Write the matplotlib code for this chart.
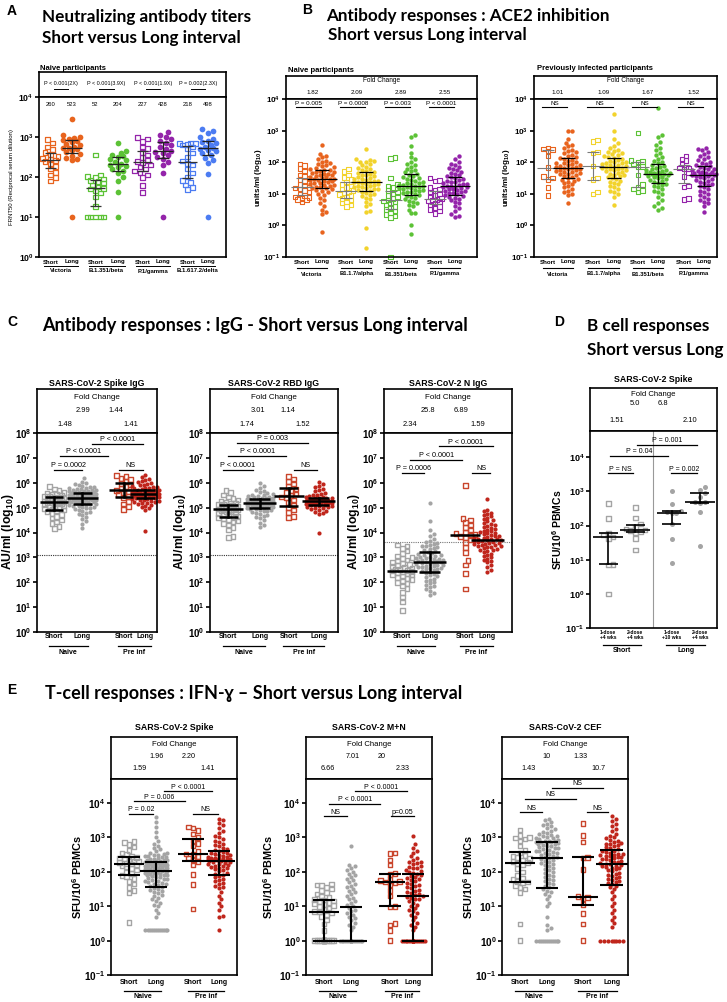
import numpy as np
import matplotlib
matplotlib.use("Agg")
import matplotlib.pyplot as plt
from matplotlib.transforms import blended_transform_factory
from matplotlib.ticker import NullLocator

plt.rcParams["font.family"] = ["Liberation Sans", "DejaVu Sans"]
plt.rcParams["mathtext.fontset"] = "custom"
plt.rcParams["mathtext.rm"] = "Liberation Sans"
plt.rcParams["mathtext.bf"] = "Liberation Sans:bold"
plt.rcParams["mathtext.it"] = "Liberation Sans:italic"

# all values below are log10 of the measured titre / count
# A: FRNT50, naive participants
A_vic_s = [2.93, 2.85, 2.75, 2.68, 2.62, 2.57, 2.52, 2.47, 2.43, 2.41, 2.38, 2.33, 2.27, 2.2, 2.12, 2.05, 1.98, 1.9]
A_vic_l = [3.44, 3.05, 3.0, 2.98, 2.95, 2.92, 2.9, 2.87, 2.83, 2.8, 2.75, 2.72, 2.72, 2.7, 2.67, 2.62, 2.58, 2.52, 2.48, 2.45, 2.42, 1.0]
A_beta_s = [2.55, 2.05, 2.02, 1.98, 1.95, 1.92, 1.88, 1.85, 1.8, 1.75, 1.72, 1.7, 1.65, 1.6, 1.5, 1.27, 1.0, 1.0, 1.0, 1.0, 1.0]
A_beta_l = [2.85, 2.65, 2.6, 2.55, 2.52, 2.5, 2.45, 2.42, 2.38, 2.33, 2.31, 2.28, 2.25, 2.2, 2.15, 2.1, 2.0, 1.9, 1.62, 1.0]
A_p1_s = [2.98, 2.95, 2.88, 2.75, 2.72, 2.62, 2.55, 2.48, 2.42, 2.38, 2.36, 2.3, 2.25, 2.2, 2.15, 2.1, 2.05, 1.98, 1.78, 1.62]
A_p1_l = [3.13, 3.05, 3.0, 2.95, 2.9, 2.85, 2.8, 2.75, 2.7, 2.65, 2.63, 2.6, 2.55, 2.5, 2.45, 2.38, 2.3, 2.1, 1.0]
A_delta_s = [2.85, 2.84, 2.83, 2.82, 2.8, 2.75, 2.7, 2.6, 2.5, 2.4, 2.34, 2.3, 2.2, 2.1, 2.0, 1.92, 1.86, 1.8, 1.73, 1.68]
A_delta_l = [3.2, 3.15, 3.1, 3.0, 2.95, 2.9, 2.88, 2.85, 2.8, 2.76, 2.72, 2.7, 2.68, 2.65, 2.6, 2.55, 2.48, 2.42, 2.35, 2.08, 1.0]
A_median_labels = ["260", "523", "52", "204", "227", "428", "218", "498"]
A_pvals = ["P < 0.001(2X)", "P < 0.001(3.9X)", "P < 0.001(1.9X)", "P = 0.002(2.3X)"]
A_variants = ["Victoria", "B.1.351/beta", "P.1/gamma", "B.1.617.2/delta"]

# B: ACE2 inhibition, naive participants
BN_vic_s = [1.95, 1.9, 1.8, 1.72, 1.6, 1.55, 1.5, 1.45, 1.4, 1.35, 1.3, 1.25, 1.2, 1.18, 1.15, 1.1, 1.05, 1.0, 0.95, 0.9, 0.88, 0.85, 0.82, 0.8, 0.75]
BN_vic_l = [2.55, 2.27, 2.2, 2.15, 2.1, 2.05, 2.0, 1.97, 1.93, 1.9, 1.87, 1.84, 1.81, 1.78, 1.76, 1.74, 1.72, 1.7, 1.68, 1.66,
            1.64, 1.62, 1.6, 1.58, 1.56, 1.54, 1.52, 1.5, 1.48, 1.47, 1.46, 1.45, 1.43, 1.41, 1.39, 1.37, 1.35, 1.33, 1.31, 1.29,
            1.27, 1.25, 1.23, 1.21, 1.19, 1.17, 1.15, 1.12, 1.09, 1.05, 1.0, 0.95, 0.88, 0.8, 0.7, 0.62, 0.5, 0.42, 0.35, -0.2]
BN_alpha_s = [1.78, 1.7, 1.6, 1.52, 1.45, 1.38, 1.3, 1.25, 1.2, 1.15, 1.1, 1.05, 1.02, 0.98, 0.95, 0.9, 0.85, 0.8, 0.75, 0.7, 0.65, 0.6]
BN_alpha_l = [2.42, 2.1, 2.08, 2.05, 2.02, 2.0, 1.95, 1.9, 1.86, 1.82, 1.78, 1.75, 1.72, 1.7, 1.67, 1.64, 1.61, 1.58, 1.55, 1.52,
              1.5, 1.48, 1.46, 1.44, 1.42, 1.4, 1.38, 1.37, 1.36, 1.34, 1.32, 1.3, 1.28, 1.26, 1.24, 1.22, 1.2, 1.18, 1.16, 1.14,
              1.12, 1.1, 1.07, 1.04, 1.0, 0.96, 0.92, 0.88, 0.82, 0.75, 0.68, 0.6, 0.45, 0.42, -0.07, -0.7]
BN_beta_s = [2.15, 2.12, 1.5, 1.3, 1.25, 1.2, 1.1, 1.05, 1.0, 0.95, 0.9, 0.85, 0.8, 0.78, 0.75, 0.7, 0.65, 0.6, 0.55, 0.5, 0.45, 0.4, 0.35, 0.3, 0.25, -1.0]
BN_beta_l = [2.87, 2.8, 2.5, 2.3, 2.15, 2.1, 2.0, 1.95, 1.9, 1.85, 1.8, 1.76, 1.72, 1.68, 1.64, 1.6, 1.56, 1.53, 1.5, 1.47,
             1.44, 1.41, 1.38, 1.35, 1.33, 1.31, 1.29, 1.27, 1.26, 1.25, 1.23, 1.21, 1.19, 1.17, 1.15, 1.13, 1.11, 1.09, 1.07, 1.05,
             1.02, 0.99, 0.96, 0.93, 0.9, 0.86, 0.82, 0.78, 0.74, 0.7, 0.65, 0.6, 0.5, 0.4, 0.38, 0.0, -0.28]
BN_p1_s = [1.5, 1.42, 1.4, 1.2, 1.15, 1.1, 1.05, 1.0, 0.95, 0.9, 0.85, 0.82, 0.8, 0.78, 0.75, 0.7, 0.65, 0.6, 0.55, 0.5, 0.45, 0.38]
BN_p1_l = [2.2, 2.1, 2.0, 1.95, 1.9, 1.86, 1.82, 1.78, 1.74, 1.7, 1.66, 1.62, 1.58, 1.55, 1.52, 1.49, 1.46, 1.43, 1.4, 1.38,
           1.36, 1.34, 1.32, 1.3, 1.28, 1.26, 1.24, 1.23, 1.22, 1.2, 1.18, 1.16, 1.14, 1.12, 1.1, 1.08, 1.06, 1.04, 1.02, 1.0,
           0.97, 0.94, 0.91, 0.88, 0.85, 0.8, 0.75, 0.7, 0.62, 0.55, 0.45, 0.35, 0.3, 0.27]
BN_fold = ["1.82", "2.09", "2.89", "2.55"]
BN_pvals = ["P = 0.005", "P = 0.0008", "P = 0.003", "P < 0.0001"]

# B: ACE2 inhibition, previously infected participants
BP_vic_s = [2.45, 2.42, 2.4, 2.35, 2.2, 1.83, 1.55, 1.5, 1.45, 1.2, 0.95]
BP_vic_l = [3.0, 2.98, 2.75, 2.62, 2.55, 2.5, 2.45, 2.4, 2.36, 2.32, 2.28, 2.24, 2.2, 2.16, 2.13, 2.1, 2.07, 2.04, 2.01, 1.98,
            1.96, 1.94, 1.92, 1.9, 1.88, 1.86, 1.84, 1.82, 1.81, 1.8, 1.78, 1.76, 1.74, 1.72, 1.7, 1.68, 1.66, 1.64, 1.62, 1.6,
            1.57, 1.54, 1.51, 1.48, 1.45, 1.42, 1.38, 1.34, 1.3, 1.25, 1.2, 1.15, 1.1, 1.05, 1.0, 0.95, 0.7]
BP_alpha_s = [2.7, 2.65, 2.33, 2.3, 1.88, 1.5, 1.45, 1.05, 1.0]
BP_alpha_l = [3.52, 3.0, 2.75, 2.6, 2.5, 2.44, 2.4, 2.36, 2.32, 2.28, 2.25, 2.22, 2.19, 2.16, 2.13, 2.1, 2.07, 2.04, 2.02, 2.0,
              1.98, 1.96, 1.94, 1.92, 1.9, 1.88, 1.86, 1.84, 1.83, 1.82, 1.8, 1.78, 1.76, 1.74, 1.72, 1.7, 1.67, 1.64, 1.61, 1.58,
              1.55, 1.52, 1.49, 1.46, 1.42, 1.38, 1.34, 1.3, 1.25, 1.2, 1.15, 1.1, 1.05, 1.0, 0.9, 0.65]
BP_beta_s = [2.92, 2.05, 2.02, 2.0, 1.95, 1.87, 1.85, 1.6, 1.3, 1.2, 1.15, 1.1, 1.05]
BP_beta_l = [3.73, 2.85, 2.8, 2.65, 2.55, 2.45, 2.38, 2.3, 2.22, 2.15, 2.1, 2.05, 2.0, 1.96, 1.92, 1.88, 1.85, 1.82, 1.79, 1.76,
             1.74, 1.72, 1.7, 1.68, 1.67, 1.66, 1.65, 1.64, 1.63, 1.62, 1.6, 1.58, 1.56, 1.54, 1.52, 1.5, 1.47, 1.44, 1.41, 1.38,
             1.35, 1.32, 1.28, 1.24, 1.2, 1.15, 1.1, 1.05, 1.0, 0.9, 0.8, 0.7, 0.6, 0.55, 0.5]
BP_p1_s = [2.2, 2.1, 2.05, 1.95, 1.85, 1.82, 1.8, 1.78, 1.65, 1.55, 1.25, 1.22, 0.85, 0.82]
BP_p1_l = [2.45, 2.42, 2.38, 2.32, 2.26, 2.2, 2.15, 2.1, 2.06, 2.02, 1.98, 1.95, 1.92, 1.89, 1.86, 1.83, 1.8, 1.77, 1.74, 1.72,
           1.7, 1.68, 1.66, 1.65, 1.64, 1.63, 1.62, 1.61, 1.6, 1.59, 1.57, 1.55, 1.53, 1.5, 1.47, 1.44, 1.41, 1.38, 1.35, 1.32,
           1.28, 1.24, 1.2, 1.15, 1.1, 1.05, 1.0, 0.95, 0.9, 0.85, 0.8, 0.75, 0.7, 0.6, 0.43]
BP_fold = ["1.01", "1.09", "1.67", "1.52"]
B_variants = ["Victoria", "B1.1.7/alpha", "B1.351/beta", "P.1/gamma"]

# C: IgG (AU/ml) -- naive short, naive long, pre-inf short, pre-inf long
C_spike_ns = [5.85, 5.75, 5.68, 5.62, 5.58, 5.55, 5.52, 5.5, 5.47, 5.45, 5.43, 5.41, 5.39, 5.37, 5.35, 5.33, 5.31, 5.29, 5.27, 5.25,
              5.24, 5.23, 5.21, 5.19, 5.17, 5.15, 5.12, 5.09, 5.06, 5.03, 5.0, 4.97, 4.94, 4.9, 4.86, 4.82, 4.77, 4.72, 4.65, 4.58,
              4.5, 4.42, 4.35, 4.25, 4.17]
C_spike_nl = [6.18, 6.05, 5.98, 5.93, 5.9, 5.87, 5.84, 5.82, 5.8, 5.78, 5.76, 5.74, 5.72, 5.7, 5.69, 5.68, 5.66, 5.65, 5.64, 5.62,
              5.61, 5.6, 5.59, 5.58, 5.57, 5.56, 5.55, 5.54, 5.53, 5.52, 5.51, 5.5, 5.49, 5.48, 5.47, 5.46, 5.45, 5.44, 5.43, 5.42,
              5.42, 5.41, 5.4, 5.39, 5.38, 5.37, 5.36, 5.35, 5.34, 5.33, 5.32, 5.31, 5.3, 5.29, 5.28, 5.27, 5.26, 5.25, 5.24, 5.23,
              5.22, 5.21, 5.2, 5.18, 5.16, 5.14, 5.12, 5.1, 5.08, 5.06, 5.04, 5.02, 5.0, 4.97, 4.94, 4.91, 4.88, 4.84, 4.8, 4.75,
              4.7, 4.63, 4.55, 4.45, 4.35, 4.17]
C_spike_ps = [6.28, 6.25, 6.18, 6.12, 6.05, 5.98, 5.92, 5.85, 5.78, 5.72, 5.7, 5.65, 5.6, 5.52, 5.45, 5.38, 5.25, 5.15, 5.05, 4.92]
C_spike_pl = [6.3, 6.22, 6.15, 6.1, 6.06, 6.02, 5.98, 5.95, 5.92, 5.89, 5.86, 5.84, 5.82, 5.8, 5.78, 5.76, 5.74, 5.72, 5.71, 5.7,
              5.68, 5.67, 5.66, 5.65, 5.64, 5.63, 5.62, 5.61, 5.6, 5.59, 5.58, 5.57, 5.56, 5.55, 5.54, 5.54, 5.53, 5.52, 5.51, 5.5,
              5.49, 5.48, 5.47, 5.46, 5.45, 5.44, 5.43, 5.42, 5.41, 5.4, 5.39, 5.38, 5.36, 5.34, 5.32, 5.3, 5.28, 5.26, 5.24, 5.22,
              5.2, 5.17, 5.14, 5.1, 5.06, 5.02, 4.97, 4.9, 4.05]
C_rbd_ns = [5.68, 5.6, 5.5, 5.42, 5.36, 5.3, 5.26, 5.22, 5.19, 5.16, 5.14, 5.12, 5.1, 5.08, 5.06, 5.04, 5.02, 5.0, 4.98, 4.96,
            4.94, 4.93, 4.92, 4.9, 4.88, 4.85, 4.82, 4.79, 4.76, 4.73, 4.7, 4.67, 4.64, 4.6, 4.56, 4.52, 4.47, 4.42, 4.36, 4.3,
            4.2, 4.1, 3.85, 3.8]
C_rbd_nl = [6.0, 5.85, 5.78, 5.72, 5.67, 5.62, 5.58, 5.55, 5.52, 5.5, 5.48, 5.46, 5.44, 5.42, 5.4, 5.38, 5.37, 5.36, 5.35, 5.34,
            5.33, 5.32, 5.31, 5.3, 5.29, 5.28, 5.27, 5.26, 5.25, 5.24, 5.23, 5.22, 5.21, 5.2, 5.2, 5.19, 5.18, 5.17, 5.16, 5.15,
            5.14, 5.13, 5.12, 5.11, 5.1, 5.09, 5.08, 5.07, 5.06, 5.05, 5.04, 5.03, 5.02, 5.0, 4.98, 4.96, 4.94, 4.92, 4.9, 4.88,
            4.85, 4.82, 4.79, 4.76, 4.72, 4.68, 4.63, 4.58, 4.5, 4.4, 4.3, 4.24]
C_rbd_ps = [6.25, 6.15, 6.05, 5.95, 5.85, 5.75, 5.68, 5.6, 5.55, 5.48, 5.42, 5.38, 5.3, 5.2, 5.1, 5.0, 4.9, 4.8, 4.65, 4.6]
C_rbd_pl = [6.05, 5.95, 5.88, 5.82, 5.76, 5.7, 5.65, 5.6, 5.56, 5.52, 5.49, 5.46, 5.44, 5.42, 5.4, 5.39, 5.38, 5.37, 5.36, 5.35,
            5.34, 5.33, 5.32, 5.31, 5.3, 5.29, 5.28, 5.27, 5.26, 5.25, 5.24, 5.24, 5.23, 5.22, 5.21, 5.2, 5.19, 5.18, 5.17, 5.16,
            5.15, 5.14, 5.13, 5.12, 5.11, 5.1, 5.08, 5.06, 5.04, 5.02, 5.0, 4.97, 4.94, 4.91, 4.88, 4.84, 4.8, 4.75, 3.97]
C_n_ns = [3.5, 3.45, 3.35, 3.25, 3.15, 3.05, 3.0, 2.95, 2.9, 2.85, 2.8, 2.76, 2.72, 2.68, 2.64, 2.6, 2.57, 2.54, 2.51, 2.48,
          2.45, 2.43, 2.41, 2.38, 2.35, 2.32, 2.29, 2.25, 2.2, 2.15, 2.1, 2.05, 2.0, 1.95, 1.85, 1.75, 1.6, 1.4, 1.2, 0.87]
C_n_nl = [5.2, 4.45, 4.1, 3.95, 3.85, 3.75, 3.65, 3.62, 3.58, 3.55, 3.5, 3.47, 3.44, 3.4, 3.38, 3.33, 3.28, 3.24, 3.2, 3.17,
          3.14, 3.11, 3.08, 3.05, 3.03, 3.01, 2.99, 2.97, 2.95, 2.93, 2.91, 2.89, 2.87, 2.85, 2.84, 2.83, 2.81, 2.79, 2.77, 2.75,
          2.73, 2.71, 2.69, 2.67, 2.65, 2.63, 2.61, 2.59, 2.57, 2.55, 2.52, 2.49, 2.46, 2.43, 2.4, 2.36, 2.32, 2.28, 2.24, 2.2,
          2.15, 2.1, 2.05, 2.0, 1.95, 1.9, 1.85, 1.8, 1.72, 1.65, 1.58, 1.5]
C_n_ps = [5.9, 4.57, 4.5, 4.4, 4.3, 4.2, 4.1, 4.0, 3.95, 3.92, 3.9, 3.85, 3.8, 3.7, 3.6, 3.4, 3.2, 2.87, 2.7, 2.35, 1.73]
C_n_pl = [5.33, 4.9, 4.85, 4.8, 4.75, 4.7, 4.65, 4.6, 4.55, 4.5, 4.45, 4.4, 4.36, 4.32, 4.28, 4.24, 4.2, 4.16, 4.12, 4.08,
          4.05, 4.02, 3.99, 3.96, 3.93, 3.9, 3.87, 3.84, 3.81, 3.78, 3.76, 3.75, 3.74, 3.72, 3.7, 3.68, 3.66, 3.64, 3.62, 3.6,
          3.58, 3.56, 3.54, 3.52, 3.5, 3.48, 3.46, 3.44, 3.42, 3.4, 3.37, 3.34, 3.31, 3.28, 3.25, 3.2, 3.15, 3.1, 3.05, 3.0,
          2.95, 2.9, 2.85, 2.8, 2.7, 2.6, 2.5, 2.4]
C_cutoff = [3.09, 3.09, 3.62]
C_fold_top = [["2.99", "1.44"], ["3.01", "1.14"], ["25.8", "6.89"]]
C_fold_low = [["1.48", "1.41"], ["1.74", "1.52"], ["2.34", "1.59"]]
C_titles = ["SARS-CoV-2 Spike IgG", "SARS-CoV-2 RBD IgG", "SARS-CoV-2 N IgG"]
C_pvals = [["P = 0.0002", "P < 0.0001", "P < 0.0001", "NS"],
           ["P < 0.0001", "P < 0.0001", "P = 0.003", "NS"],
           ["P = 0.0006", "P < 0.0001", "P < 0.0001", "NS"]]

# D: B cell ELISpot (SFU/10^6 PBMCs)
D_short_1dose = [2.65, 2.2, 1.78, 1.72, 1.67, 1.62, 0.86, 0.85, 0.0]
D_short_2dose = [2.53, 2.22, 2.05, 1.95, 1.9, 1.87, 1.85, 1.83, 1.8, 1.62, 1.28]
D_long_1dose = [3.0, 2.63, 2.42, 2.4, 2.38, 2.37, 2.05, 1.6, 0.9]
D_long_2dose = [3.13, 3.05, 2.95, 2.85, 2.7, 2.68, 2.65, 2.4, 1.4]
D_labels = ["1-dose\n+4 wks", "2-dose\n+4 wks", "1-dose\n+10 wks", "2-dose\n+4 wks"]
D_pvals = ["P = NS", "P = 0.04", "P = 0.001", "P = 0.002"]

# E: T-cell IFN-g ELISpot (SFU/10^6 PBMCs)
E_spike_ns = [2.88, 2.85, 2.8, 2.72, 2.62, 2.55, 2.5, 2.45, 2.42, 2.4, 2.38, 2.35, 2.32, 2.3, 2.28, 2.25, 2.23, 2.2, 2.18, 2.15,
              2.1, 2.05, 2.0, 1.95, 1.9, 1.85, 1.8, 1.72, 1.65, 1.55, 1.45, 1.38, 0.52]
E_spike_nl = [3.6, 3.45, 3.3, 3.15, 3.0, 2.9, 2.82, 2.76, 2.7, 2.65, 2.6, 2.56, 2.55, 2.52, 2.5, 2.49, 2.46, 2.45, 2.43, 2.42,
              2.4, 2.38, 2.36, 2.35, 2.34, 2.33, 2.32, 2.31, 2.3, 2.29, 2.28, 2.27, 2.26, 2.25, 2.24, 2.23, 2.22, 2.21, 2.2, 2.19,
              2.18, 2.17, 2.16, 2.15, 2.14, 2.13, 2.12, 2.11, 2.1, 2.09, 2.08, 2.07, 2.06, 2.05, 2.04, 2.03, 2.02, 2.01, 2.0, 1.99,
              1.98, 1.97, 1.96, 1.95, 1.94, 1.93, 1.92, 1.91, 1.9, 1.88, 1.86, 1.84, 1.82, 1.8, 1.78, 1.76, 1.74, 1.72, 1.7, 1.68,
              1.66, 1.64, 1.62, 1.6, 1.57, 1.54, 1.51, 1.48, 1.45, 1.42, 1.38, 1.34, 1.3, 1.25, 1.2, 1.15, 1.1, 1.05, 1.0, 0.9,
              0.8, 0.7, 0.3, 0.3, 0.3, 0.3, 0.3, 0.3, 0.3, 0.3, 0.3, 0.3, 0.3, 0.3]
E_spike_ps = [3.3, 3.28, 3.2, 3.1, 3.0, 2.9, 2.82, 2.75, 2.6, 2.52, 2.5, 2.45, 2.4, 2.35, 2.3, 2.2, 1.93, 1.63, 0.92]
E_spike_pl = [3.55, 3.5, 3.42, 3.35, 3.28, 3.2, 3.12, 3.05, 3.0, 2.95, 2.9, 2.86, 2.82, 2.78, 2.74, 2.7, 2.67, 2.64, 2.61, 2.58,
              2.56, 2.54, 2.52, 2.5, 2.48, 2.46, 2.44, 2.42, 2.41, 2.4, 2.39, 2.38, 2.37, 2.36, 2.35, 2.34, 2.33, 2.32, 2.31, 2.3,
              2.28, 2.26, 2.24, 2.22, 2.2, 2.18, 2.16, 2.14, 2.12, 2.1, 2.07, 2.04, 2.01, 1.98, 1.95, 1.92, 1.88, 1.84, 1.8, 1.76,
              1.72, 1.68, 1.64, 1.6, 1.56, 1.52, 1.4, 1.3, 1.2, 1.1, 1.0, 0.9, 0.72, 0.7, 0.3]
E_mn_ns = [1.65, 1.62, 1.6, 1.55, 1.5, 1.45, 1.4, 1.35, 1.3, 1.25, 1.2, 1.18, 1.15, 1.12, 1.1, 1.08, 1.05, 1.02, 1.0, 0.95,
           0.9, 0.85, 0.83, 0.8, 0.75, 0.7, 0.6, 0.48, 0.3,
           0.0, 0.0, 0.0, 0.0, 0.0, 0.0, 0.0, 0.0, 0.0, 0.0, 0.0, 0.0, 0.0, 0.0, 0.0]
E_mn_nl = [2.75, 2.2, 2.18, 2.1, 2.05, 2.0, 1.95, 1.9, 1.85, 1.8, 1.75, 1.7, 1.65, 1.6, 1.55, 1.5, 1.45, 1.4, 1.35, 1.3,
           1.25, 1.2, 1.15, 1.1, 1.05, 1.0, 0.95, 0.9, 0.85, 0.8, 0.75, 0.7, 0.65, 0.6, 0.5, 0.45, 0.4, 0.3] + [0.0] * 66
E_mn_ps = [2.55, 2.53, 2.35, 2.2, 1.95, 1.93, 1.78, 1.75, 1.72, 1.7, 1.68, 1.62, 1.45, 1.3, 1.0, 0.98, 0.5, 0.45, 0.3, 0.0]
E_mn_pl = [3.05, 2.8, 2.7, 2.6, 2.55, 2.45, 2.4, 2.35, 2.3, 2.28, 2.25, 2.22, 2.18, 2.15, 2.12, 2.1, 2.05, 2.02, 2.0, 1.98,
           1.95, 1.9, 1.88, 1.85, 1.82, 1.8, 1.76, 1.72, 1.68, 1.65, 1.62, 1.58, 1.55, 1.52, 1.48, 1.45, 1.42, 1.38, 1.35, 1.32,
           1.3, 1.28, 1.25, 1.22, 1.2, 1.15, 1.1, 1.05, 1.0, 0.95, 0.9, 0.85, 0.8, 0.75, 0.7, 0.6, 0.5, 0.45, 0.4, 0.3] + [0.0] * 22
E_cef_ns = [3.22, 3.05, 3.0, 2.98, 2.95, 2.9, 2.75, 2.62, 2.55, 2.48, 2.45, 2.42, 2.38, 2.35, 2.3, 2.27, 2.25, 2.2, 2.1, 2.0,
            1.9, 1.82, 1.78, 1.72, 1.7, 1.68, 1.6, 1.55, 1.5, 1.4, 0.48, 0.0]
E_cef_nl = [3.55, 3.5, 3.45, 3.4, 3.36, 3.32, 3.28, 3.24, 3.2, 3.17, 3.14, 3.11, 3.08, 3.05, 3.03, 3.01, 2.99, 2.97, 2.95, 2.93,
            2.91, 2.9, 2.89, 2.88, 2.87, 2.86, 2.85, 2.84, 2.82, 2.8, 2.78, 2.76, 2.74, 2.72, 2.7, 2.68, 2.66, 2.64, 2.62, 2.6,
            2.58, 2.56, 2.54, 2.52, 2.5, 2.47, 2.44, 2.42, 2.4, 2.38, 2.35, 2.32, 2.29, 2.26, 2.23, 2.2, 2.16, 2.12, 2.08, 2.04,
            2.0, 1.96, 1.92, 1.88, 1.84, 1.8, 1.76, 1.72, 1.68, 1.64, 1.6, 1.55, 1.5, 1.45, 1.4, 1.35, 1.3, 1.2, 1.1, 1.0,
            0.7, 0.45, 0.38, 0.3] + [0.0] * 12
E_cef_ps = [3.4, 3.05, 2.87, 2.42, 2.4, 2.06, 1.28, 1.25, 1.22, 1.05, 0.78, 0.48, 0.0]
E_cef_pl = [3.62, 3.55, 3.48, 3.4, 3.32, 3.25, 3.18, 3.1, 3.04, 3.0, 2.98, 2.93, 2.9, 2.88, 2.84, 2.82, 2.8, 2.77, 2.74, 2.71,
            2.68, 2.65, 2.62, 2.6, 2.59, 2.56, 2.53, 2.52, 2.5, 2.48, 2.46, 2.45, 2.44, 2.42, 2.4, 2.38, 2.36, 2.34, 2.32, 2.3,
            2.28, 2.26, 2.24, 2.22, 2.2, 2.18, 2.16, 2.14, 2.12, 2.1, 2.07, 2.04, 2.01, 1.98, 1.95, 1.92, 1.89, 1.86, 1.83, 1.8,
            1.77, 1.74, 1.71, 1.68, 1.65, 1.6, 1.55, 1.5, 1.4, 1.3, 1.2, 1.1, 1.0, 0.9, 0.8, 0.7, 0.6, 0.5, 0.4] + [0.0] * 8
E_titles = ["SARS-CoV-2 Spike", "SARS-CoV-2 M+N", "SARS-CoV-2 CEF"]
E_fold_top = [["1.96", "2.20"], ["7.01", "20"], ["10", "1.33"]]
E_fold_low = [["1.59", "1.41"], ["6.66", "2.33"], ["1.43", "10.7"]]
E_pvals = [["P = 0.02", "P = 0.006", "P < 0.0001", "NS"],
           ["NS", "P < 0.0001", "P < 0.0001", "p=0.05"],
           ["NS", "NS", "NS", "NS"]]

ORANGE = "#E8641E"
YELLOW = "#F2D32C"
GREEN = "#5CC236"
PURPLE = "#9424AA"
BLUE = "#4C7CF2"
GREY = "#A4A4A4"
RED = "#C0261C"
RED_SQ = "#C9452C"

W, H = 727, 1002
fig = plt.figure(figsize=(W / 100, H / 100), dpi=100)
TITLE_FONT = ["Lato", "DejaVu Sans"]


def ftext(x, y, s, **kw):
    kw.setdefault("va", "center")
    fig.text(x / W, 1 - y / H, s, **kw)


def add_ax(l, t, r, b):
    return fig.add_axes([l / W, 1 - b / H, (r - l) / W, (b - t) / H])


def panel(l, th, t, r, b, ylo, yhi, xlim, fs, lw=1.2):
    hd = add_ax(l, th, r, t)
    hd.set_xlim(xlim)
    hd.set_ylim(0, 1)
    hd.set_xticks([])
    hd.set_yticks([])
    hd.top, hd.bot = th, t
    ax = add_ax(l, t, r, b)
    ax.set_yscale("log")
    ax.set_ylim(10.0 ** ylo, 10.0 ** yhi)
    ax.set_xlim(xlim)
    ax.set_xticks([])
    exps = list(range(int(np.ceil(ylo)), int(np.floor(yhi)) + 1))
    ax.set_yticks([10.0 ** e for e in exps])
    ax.set_yticklabels([r"$\mathbf{10^{%d}}$" % e for e in exps], fontsize=fs)
    ax.yaxis.set_minor_locator(NullLocator())
    ax.tick_params(axis="y", length=3, width=lw, pad=1)
    for a in (ax, hd):
        for s in a.spines.values():
            s.set_linewidth(lw)
    ax.ppx = (r - l) / (xlim[1] - xlim[0])
    ax.ppy = (b - t) / (yhi - ylo)
    ax.hpx = b - t
    return ax, hd


def swarm(logs, x0, ppx, ppy, d, maxw):
    logs = np.asarray(logs, float)
    ys = logs * ppy
    order = np.argsort(logs, kind="stable")
    step = d / 2.0
    cands = [0.0]
    k = 1
    while k * step <= maxw:
        cands += [k * step, -k * step]
        k += 1
    cands = np.array(cands)
    px, py = [], []
    xs = np.zeros(len(logs))
    for i in order:
        y = ys[i]
        c = 0.0
        if px:
            PX, PY = np.array(px), np.array(py)
            near = np.abs(PY - y) < d
            if near.any():
                dist = np.hypot(cands[:, None] - PX[near][None, :], y - PY[near][None, :]).min(axis=1)
                ok = np.where(dist >= d * 0.98)[0]
                c = cands[ok[0]] if len(ok) else cands[np.argmax(dist)]
        px.append(c)
        py.append(y)
        xs[i] = x0 + c / ppx
    return xs


def group(ax, logs, x0, color, open_, d, maxw, s, ebc="black", elw=1.0, mw=0.45, cw=0.28, iqr=True, slw=0.9):
    xs = swarm(logs, x0, ax.ppx, ax.ppy, d, maxw)
    v = 10.0 ** np.asarray(logs, float)
    if open_:
        ax.scatter(xs, v, s=s, marker="s", facecolors="none", edgecolors=color, linewidths=slw, zorder=2, clip_on=False)
    else:
        ax.scatter(xs, v, s=s, marker="o", color=color, linewidths=0, zorder=2, clip_on=False)
    q1, med, q3 = np.percentile(v, [25, 50, 75])
    ax.plot([x0 - mw, x0 + mw], [med, med], color=ebc, lw=elw, zorder=3, solid_capstyle="butt")
    if iqr:
        for q in (q1, q3):
            ax.plot([x0 - cw, x0 + cw], [q, q], color=ebc, lw=elw, zorder=3, solid_capstyle="butt")
        ax.plot([x0, x0], [q1, q3], color=ebc, lw=elw, zorder=3)


def bracket(ax, x1, x2, ly, label, fs, lw=0.8, color="black"):
    y = 10.0 ** ly
    ax.plot([x1, x2], [y, y], color=color, lw=lw, clip_on=False)
    ax.annotate(label, ((x1 + x2) / 2, y), xytext=(0, 0.6), textcoords="offset points",
                ha="center", va="bottom", fontsize=fs)


def xlabels(ax, pos, names, groups, fs1, fs2, dy1, dy2, dy3, pad=0.2, lw=0.8):
    tr = blended_transform_factory(ax.transData, ax.transAxes)
    h = ax.hpx
    for p, n in zip(pos, names):
        ax.text(p, -dy1 / h, n, transform=tr, ha="center", va="center", fontsize=fs1, fontweight="bold",
                linespacing=1.0)
    for name, a, b in groups:
        ax.plot([a - pad, b + pad], [-dy2 / h] * 2, transform=tr, color="black", lw=lw, clip_on=False)
        ax.text((a + b) / 2, -dy3 / h, name, transform=tr, ha="center", va="center", fontsize=fs2,
                fontweight="bold")


def htext(hd, x, ypx, s, fs, **kw):
    hd.text(x, (hd.bot - ypx) / (hd.bot - hd.top), s, ha="center", va="center", fontsize=fs, **kw)


# ---------------- panel A ----------------
ftext(7, 11, "A", fontsize=10, fontweight="bold")
ftext(42, 17, "Neutralizing antibody titers", fontsize=12.3, fontweight="bold", family=TITLE_FONT)
ftext(42, 38, "Short versus Long interval", fontsize=12.3, fontweight="bold", family=TITLE_FONT)
ftext(40, 68, "Naive participants", fontsize=5.5, fontweight="bold")
axA, hdA = panel(39, 72, 97, 226, 257, 0, 4, (-0.5, 7.8), 6.2)
PA = [0, 0.95, 2, 3, 4.1, 5, 6.1, 7]
A_series = [A_vic_s, A_vic_l, A_beta_s, A_beta_l, A_p1_s, A_p1_l, A_delta_s, A_delta_l]
A_colors = [ORANGE, ORANGE, GREEN, GREEN, PURPLE, PURPLE, BLUE, BLUE]
for i, (vals, col) in enumerate(zip(A_series, A_colors)):
    if i % 2 == 0:
        group(axA, vals, PA[i], col, True, d=5.2, maxw=8, s=12, ebc="#333333", elw=0.9, mw=0.42, cw=0.25)
    else:
        group(axA, vals, PA[i], col, False, d=5.5, maxw=9, s=17, ebc="#222222", elw=0.9, mw=0.45, cw=0.28)
for k in range(4):
    a, b = PA[2 * k], PA[2 * k + 1]
    htext(hdA, (a + b) / 2, 84, A_pvals[k], 3.9)
    hdA.plot([a + 0.15, b - 0.15], [(97 - 89) / 25] * 2, color="black", lw=0.7)
for p, lab in zip(PA, A_median_labels):
    axA.text(p, 10 ** 3.82, lab, ha="center", va="center", fontsize=4.2)
ftext(12, 177, "FRNT50 (Reciprocal serum dilution)", fontsize=4.3, rotation=90, ha="center")
xlabels(axA, PA, ["Short", "Long"] * 4, [(A_variants[k], PA[2 * k], PA[2 * k + 1]) for k in range(4)],
        4.3, 4.3, 5, 9, 14, pad=0.3, lw=0.7)

# ---------------- panel B ----------------
ftext(302, 10, "B", fontsize=10, fontweight="bold")
ftext(326, 16, "Antibody responses : ACE2 inhibition", fontsize=12.3, fontweight="bold", family=TITLE_FONT)
ftext(328, 35, "Short versus Long interval", fontsize=12.3, fontweight="bold", family=TITLE_FONT)
ftext(288, 70, "Naive participants", fontsize=5.5, fontweight="bold")
ftext(537, 69, "Previously infected participants", fontsize=5.5, fontweight="bold")
B_colors = [ORANGE, YELLOW, GREEN, PURPLE]
for side in range(2):
    if side == 0:
        ax, hd = panel(286, 76, 99, 477, 257, -1, 4, (-0.8, 8.7), 5.8)
        PB = [0, 1, 2.2, 3.2, 4.4, 5.4, 6.6, 7.6]
        shorts = [BN_vic_s, BN_alpha_s, BN_beta_s, BN_p1_s]
        longs = [BN_vic_l, BN_alpha_l, BN_beta_l, BN_p1_l]
        folds, pv = BN_fold, BN_pvals
        ftext(259, 178, r"units/ml (log$_\mathbf{10}$)", fontsize=5.8, fontweight="bold", rotation=90, ha="center")
    else:
        ax, hd = panel(534, 76, 99, 717, 257, -1, 4, (-0.7, 8.45), 5.8)
        PB = [0, 1, 2.25, 3.3, 4.5, 5.5, 6.8, 7.8]
        shorts = [BP_vic_s, BP_alpha_s, BP_beta_s, BP_p1_s]
        longs = [BP_vic_l, BP_alpha_l, BP_beta_l, BP_p1_l]
        folds, pv = BP_fold, ["NS"] * 4
        ftext(507, 178, r"units/ml (log$_\mathbf{10}$)", fontsize=5.8, fontweight="bold", rotation=90, ha="center")
    for k in range(4):
        group(ax, shorts[k], PB[2 * k], B_colors[k], True, d=4.6, maxw=8, s=10, ebc="#7A7A7A", elw=0.8,
              mw=0.55, cw=0.3, slw=0.8)
        group(ax, longs[k], PB[2 * k + 1], B_colors[k], False, d=4.0, maxw=12, s=10, ebc="black", elw=0.9,
              mw=0.75, cw=0.35)
        a, b = PB[2 * k], PB[2 * k + 1]
        bracket(ax, a - 0.3, b - 0.05, 3.75, pv[k], 4.5)
        htext(hd, (a + b) / 2, 92, folds[k], 4.5)
    htext(hd, (ax.get_xlim()[0] + ax.get_xlim()[1]) / 2, 81, "Fold Change", 4.7)
    xlabels(ax, PB, ["Short", "Long"] * 4, [(B_variants[k], PB[2 * k], PB[2 * k + 1]) for k in range(4)],
            4.4, 4.2, 5, 11, 17, pad=0.25, lw=0.8)

# ---------------- panel C ----------------
ftext(7, 322, "C", fontsize=10, fontweight="bold")
ftext(42, 325, "Antibody responses : IgG - Short versus Long interval", fontsize=13, fontweight="bold",
      family=TITLE_FONT)
C_boxes = [(37, 157), (210, 338), (384, 512)]
C_pos = [[0, 1.1, 2.7, 3.55], [0, 1.15, 2.2, 3.3], [0, 1.0, 2.3, 3.1]]
C_data = [[C_spike_ns, C_spike_nl, C_spike_ps, C_spike_pl],
          [C_rbd_ns, C_rbd_nl, C_rbd_ps, C_rbd_pl],
          [C_n_ns, C_n_nl, C_n_ps, C_n_pl]]
C_brackets = [[(0, 1.1, 6.52), (0.23, 2.09, 7.09), (1.47, 3.45, 7.56), (2.52, 3.45, 6.52)],
              [(-0.2, 0.9, 6.52), (0.0, 2.1, 7.09), (0.32, 2.9, 7.6), (2.4, 3.24, 6.52)],
              [(0.0, 0.8, 6.39), (0.28, 2.18, 6.93), (1.34, 3.3, 7.46), (2.54, 3.2, 6.39)]]
C_fold_x = [[1.12, 2.41, 0.42, 2.99], [1.08, 2.18, 0.68, 2.72], [0.94, 2.14, 0.28, 2.76]]
C_ylab_x = [8, 180, 354]
C_iqr = [[True] * 4, [True] * 4, [False, True, False, False]]
for j in range(3):
    l, r = C_boxes[j]
    ax, hd = panel(l, 389, 433, r, 632, 0, 8, (-0.67, 4.0), 7)
    P = C_pos[j]
    cols = [GREY, GREY, RED_SQ, RED]
    for k in range(4):
        if k % 2 == 0:
            group(ax, C_data[j][k], P[k], cols[k], True, d=4.8, maxw=11, s=11, elw=1.8, mw=0.55, cw=0.35,
                  iqr=C_iqr[j][k], slw=1.0)
        else:
            group(ax, C_data[j][k], P[k], cols[k], False, d=3.8, maxw=15, s=9, elw=1.8, mw=0.6, cw=0.38,
                  iqr=C_iqr[j][k])
    ax.axhline(10 ** C_cutoff[j], color="#333333" if j < 2 else "#777777", lw=0.8, ls=(0, (1, 1)), zorder=1)
    for (x1, x2, ly), lab in zip(C_brackets[j], C_pvals[j]):
        bracket(ax, x1, x2, ly, lab, 5.2, lw=0.9)
    fx = C_fold_x[j]
    htext(hd, 1.67, 398, "Fold Change", 5.8)
    htext(hd, fx[0], 411, C_fold_top[j][0], 5.4)
    htext(hd, fx[1], 411, C_fold_top[j][1], 5.4)
    htext(hd, fx[2], 424, C_fold_low[j][0], 5.4)
    htext(hd, fx[3], 424, C_fold_low[j][1], 5.4)
    ftext((l + r) / 2, 383, C_titles[j], fontsize=6.3, fontweight="bold", ha="center")
    ftext(C_ylab_x[j], 532, r"AU/ml (log$_\mathbf{10}$)", fontsize=8.8, fontweight="bold", rotation=90, ha="center")
    xlabels(ax, P, ["Short", "Long", "Short", "Long"], [("Naive", P[0], P[1]), ("Pre inf", P[2], P[3])],
            5.0, 5.0, 5, 14, 20, pad=0.2, lw=0.9)

# ---------------- panel D ----------------
ftext(554, 322, "D", fontsize=10, fontweight="bold")
ftext(587, 326, "B cell responses", fontsize=12.3, fontweight="bold", family=TITLE_FONT)
ftext(587, 350, "Short versus Long", fontsize=12.3, fontweight="bold", family=TITLE_FONT)
axD, hdD = panel(590, 388, 431, 717, 628, -1, 4.77, (-0.67, 4.0), 6.5)
PD = [0, 1, 2.33, 3.37]
D_series = [D_short_1dose, D_short_2dose, D_long_1dose, D_long_2dose]
for k in range(4):
    group(axD, D_series[k], PD[k], GREY, k < 2, d=4.8, maxw=10, s=11 if k < 2 else 13, elw=1.2, mw=0.55,
          cw=0.35, slw=1.0)
axD.axvline(1.66, color="#999999", lw=0.8)
for (x1, x2, ly), lab in zip([(0, 0.9, 3.53), (0.07, 2.2, 4.03), (1.04, 3.26, 4.37), (2.3, 3.26, 3.53)], D_pvals):
    bracket(axD, x1, x2, ly, lab, 5.0, lw=0.9)
htext(hdD, 1.67, 395, "Fold Change", 5.6)
htext(hdD, 1.0, 404, "5.0", 5.4)
htext(hdD, 2.0, 404, "6.8", 5.4)
htext(hdD, 0.33, 421, "1.51", 5.4)
htext(hdD, 3.0, 421, "2.10", 5.4)
ftext(653, 379, "SARS-CoV-2 Spike", fontsize=6.3, fontweight="bold", ha="center")
ftext(557, 530, r"SFU/10$^\mathbf{6}$ PBMCs", fontsize=7.5, fontweight="bold", rotation=90, ha="center")
xlabels(axD, PD, D_labels, [("Short", PD[0], PD[1]), ("Long", PD[2], PD[3])], 3.6, 5.0, 7, 17, 23,
        pad=0.2, lw=0.9)

# ---------------- panel E ----------------
ftext(7, 690, "E", fontsize=10, fontweight="bold")
ftext(45, 693, "T-cell responses : IFN-ɣ – Short versus Long interval", fontsize=13, fontweight="bold",
      family=TITLE_FONT)
E_boxes = [(111, 237), (306, 432), (502, 628)]
E_pos = [[0, 1, 2.37, 3.33], [0, 1, 2.45, 3.3], [0, 1, 2.33, 3.4]]
E_data = [[E_spike_ns, E_spike_nl, E_spike_ps, E_spike_pl],
          [E_mn_ns, E_mn_nl, E_mn_ps, E_mn_pl],
          [E_cef_ns, E_cef_nl, E_cef_ps, E_cef_pl]]
E_brackets = [[(0, 0.9, 3.69), (0.19, 2.07, 4.05), (1.3, 3.07, 4.34), (2.37, 3.3, 3.69)],
              [(0, 0.85, 3.61), (0.19, 2.07, 3.98), (1.15, 3.07, 4.34), (2.48, 3.33, 3.61)],
              [(0, 0.81, 3.73), (0.19, 2.07, 4.12), (1.19, 3.07, 4.44), (2.48, 3.26, 3.73)]]
E_fold_x = [[1.03, 2.2, 0.37, 2.9], [1.07, 2.15, 0.15, 2.93], [0.96, 2.22, 0.33, 2.89]]
E_ylab_x = [77, 268, 468]
for j in range(3):
    l, r = E_boxes[j]
    ax, hd = panel(l, 737, 779, r, 975, -1, 4.7, (-0.67, 4.0), 7.2)
    P = E_pos[j]
    cols = [GREY, GREY, RED_SQ, RED]
    for k in range(4):
        if k % 2 == 0:
            group(ax, E_data[j][k], P[k], cols[k], True, d=4.8, maxw=11, s=11, elw=1.5, mw=0.55, cw=0.4, slw=1.0)
        else:
            group(ax, E_data[j][k], P[k], cols[k], False, d=3.8, maxw=13, s=9, elw=1.5, mw=0.6, cw=0.42)
    for (x1, x2, ly), lab in zip(E_brackets[j], E_pvals[j]):
        bracket(ax, x1, x2, ly, lab, 5.0, lw=0.9)
    fx = E_fold_x[j]
    htext(hd, 1.67, 744, "Fold Change", 5.6)
    htext(hd, fx[0], 757, E_fold_top[j][0], 5.2)
    htext(hd, fx[1], 757, E_fold_top[j][1], 5.2)
    htext(hd, fx[2], 769, E_fold_low[j][0], 5.2)
    htext(hd, fx[3], 769, E_fold_low[j][1], 5.2)
    ftext((l + r) / 2, 728, E_titles[j], fontsize=6.3, fontweight="bold", ha="center")
    ftext(E_ylab_x[j], 877, r"SFU/10$^\mathbf{6}$ PBMCs", fontsize=7.8, fontweight="bold", rotation=90, ha="center")
    xlabels(ax, P, ["Short", "Long", "Short", "Long"], [("Naive", P[0], P[1]), ("Pre inf", P[2], P[3])],
            5.0, 5.0, 8, 16, 22, pad=0.2, lw=0.9)

fig.savefig("out.png", dpi=100)
